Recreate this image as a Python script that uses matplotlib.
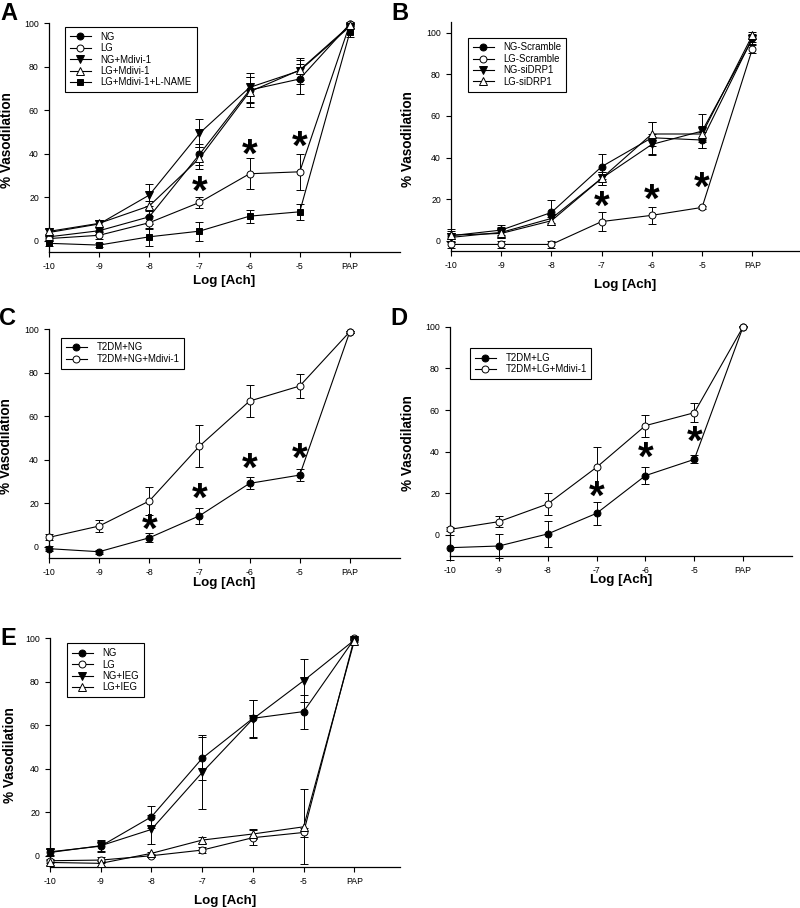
import matplotlib
matplotlib.use("Agg")
import matplotlib.pyplot as plt
from matplotlib.transforms import ScaledTranslation

plt.rcParams['font.family'] = ['Liberation Sans', 'DejaVu Sans']

# ---------------- data ----------------
tick_labels = ['-10', '-9', '-8', '-7', '-6', '-5', 'PAP']
xpos = [0, 1, 2, 3, 4, 5, 6]

# Panel A
a_labels = ['NG', 'LG', 'NG+Mdivi-1', 'LG+Mdivi-1', 'LG+Mdivi-1+L-NAME']
a_ng = [1.8, 4.6, 11.0, 39.7, 69.3, 74.4, 99.7]
a_ng_err = [1.5, 1.5, 3.5, 5.0, 6.0, 7.0, 0.8]
a_lg = [1.0, 2.5, 8.3, 17.6, 30.8, 31.7, 99.7]
a_lg_err = [1.2, 1.5, 3.0, 2.7, 7.2, 8.4, 0.8]
a_ngm = [3.8, 7.7, 21.0, 49.4, 70.5, 78.2, 98.5]
a_ngm_err = [1.5, 1.8, 5.2, 6.4, 6.8, 6.0, 0.8]
a_lgm = [4.3, 8.0, 16.0, 37.9, 68.5, 78.5, 99.0]
a_lgm_err = [1.5, 1.5, 2.5, 5.0, 7.0, 4.5, 0.8]
a_lgml = [-1.2, -2.0, 1.8, 4.4, 11.3, 13.3, 95.9]
a_lgml_err = [1.2, 0.8, 4.0, 4.4, 3.0, 3.7, 2.0]
a_star_x = [3, 4, 5]
a_star_y = [25.6, 42.5, 46.3]

# Panel B
b_labels = ['NG-Scramble', 'LG-Scramble', 'NG-siDRP1', 'LG-siDRP1']
b_ngs = [2.4, 5.1, 13.6, 35.6, 49.5, 48.4, 97.3]
b_ngs_err = [3.0, 2.5, 6.2, 6.0, 7.7, 3.7, 2.0]
b_lgs = [-1.8, -1.8, -1.8, 9.2, 12.2, 16.0, 92.1]
b_lgs_err = [1.5, 1.5, 1.5, 4.5, 4.2, 0.8, 2.0]
b_ngd = [1.6, 4.0, 10.7, 30.0, 46.3, 52.7, 96.8]
b_ngd_err = [2.0, 2.5, 2.0, 3.0, 5.0, 8.2, 2.0]
b_lgd = [2.7, 3.5, 9.6, 30.0, 51.3, 51.3, 98.7]
b_lgd_err = [2.0, 2.0, 2.0, 3.0, 6.0, 4.0, 1.5]
b_star_x = [3, 4, 5]
b_star_y = [19.5, 23.0, 28.4]

# Panel C
c_labels = ['T2DM+NG', 'T2DM+NG+Mdivi-1']
c_ng = [-0.9, -2.3, 4.1, 14.2, 29.1, 32.9, 98.8]
c_ng_err = [1.0, 1.0, 2.0, 3.6, 2.7, 2.9, 0.5]
c_ngm = [4.3, 9.5, 21.0, 46.2, 66.9, 73.8, 98.8]
c_ngm_err = [1.4, 2.8, 6.6, 9.7, 7.4, 5.5, 0.5]
c_star_x = [2, 3, 4, 5]
c_star_y = [11.0, 24.8, 38.6, 43.6]

# Panel D
d_labels = ['T2DM+LG', 'T2DM+LG+Mdivi-1']
d_lg = [-6.1, -5.3, 0.5, 10.4, 28.5, 36.3, 100.0]
d_lg_err = [6.0, 5.8, 6.3, 5.5, 3.9, 1.9, 0.3]
d_lgm = [2.7, 6.4, 14.9, 32.5, 52.5, 58.7, 100.0]
d_lgm_err = [1.0, 2.7, 5.2, 9.9, 5.3, 4.5, 0.3]
d_star_x = [3, 4, 5]
d_star_y = [21.3, 40.0, 47.7]

# Panel E
e_labels = ['NG', 'LG', 'NG+IEG', 'LG+IEG']
e_ng = [1.8, 4.4, 17.9, 44.8, 63.2, 66.3, 99.7]
e_ng_err = [1.5, 2.5, 5.0, 10.0, 8.5, 7.8, 0.5]
e_lg = [-2.3, -2.0, 0.0, 2.6, 8.3, 10.7, 100.0]
e_lg_err = [1.0, 1.5, 0.8, 1.2, 3.4, 2.0, 0.5]
e_ngi = [1.5, 4.6, 12.1, 38.3, 62.9, 80.5, 99.2]
e_ngi_err = [1.5, 2.5, 6.5, 17.0, 8.8, 10.0, 0.5]
e_lgi = [-3.1, -3.5, 1.1, 7.2, 10.0, 13.3, 98.9]
e_lgi_err = [1.0, 1.0, 0.8, 1.3, 2.5, 17.2, 0.5]

panel_letters = ['A', 'B', 'C', 'D', 'E']

# ---------------- styles ----------------
STY = {
    'fc': dict(marker='o', mfc='black', ms=5.0),
    'oc': dict(marker='o', mfc='white', ms=5.0),
    'dt': dict(marker='v', mfc='black', ms=5.4),
    'ut': dict(marker='^', mfc='white', ms=5.4),
    'sq': dict(marker='s', mfc='black', ms=4.4),
}

fig = plt.figure(figsize=(8.0, 9.08), dpi=100)
W, H = 800.0, 908.0


def make_ax(left, right, top_px, bot_px, ylim, xmax):
    ax = fig.add_axes([left / W, 1 - bot_px / H, (right - left) / W, (bot_px - top_px) / H])
    ax.set_xlim(0, xmax)
    ax.set_ylim(*ylim)
    for s in ['top', 'right']:
        ax.spines[s].set_visible(False)
    for s in ['left', 'bottom']:
        ax.spines[s].set_linewidth(0.9)
    ax.set_xticks(xpos)
    ax.set_xticklabels(tick_labels)
    ax.set_yticks([0, 20, 40, 60, 80, 100])
    ax.tick_params(axis='both', direction='out', length=3.3, width=0.8, labelsize=6.3, pad=4)
    return ax


def draw(ax, series, labels, legend_anchor, stars, xlab_coords, ylab_x):
    handles = []
    for (vals, errs, key), lab in zip(series, labels):
        st = STY[key]
        h = ax.errorbar(xpos, vals, yerr=errs, color='black', lw=0.8, elinewidth=0.7,
                        capsize=2.6, capthick=0.7, marker=st['marker'], mfc=st['mfc'],
                        mec='black', mew=0.7, ms=st['ms'], label=lab, clip_on=False,
                        zorder=3)
        for art in h.get_children():
            art.set_clip_on(False)
        handles.append(h[0])
    leg = ax.legend(handles, labels, loc='upper left', bbox_to_anchor=legend_anchor,
                    fontsize=6.9, frameon=True, fancybox=False, edgecolor='black',
                    handlelength=2.2, handletextpad=1.0, labelspacing=0.15,
                    borderpad=0.5, borderaxespad=0.0, framealpha=1)
    leg.get_frame().set_linewidth(0.8)
    fs = 29
    off = ScaledTranslation(0, -0.46 * fs / 72.0, fig.dpi_scale_trans)
    for sx, sy in zip(*stars):
        ax.text(sx, sy, '*', fontsize=fs, fontweight='bold', ha='center', va='baseline',
                transform=ax.transData + off)
    ax.set_xlabel('Log [Ach]', fontsize=9.6, fontweight='bold', va='center')
    ax.xaxis.set_label_coords(0.5, xlab_coords)
    ax.set_ylabel('% Vasodilation', fontsize=9.8, fontweight='bold')
    ax.yaxis.set_label_coords(ylab_x, 0.49)


# Panel A
axA = make_ax(49, 400, 23.3, 251.6, (-5, 100), 7)
draw(axA, [(a_ng, a_ng_err, 'fc'), (a_lg, a_lg_err, 'oc'), (a_ngm, a_ngm_err, 'dt'),
           (a_lgm, a_lgm_err, 'ut'), (a_lgml, a_lgml_err, 'sq')], a_labels,
     (0.046, 0.984), (a_star_x, a_star_y), -0.127, -0.10)

# Panel B
axB = make_ax(451, 800, 22.3, 251.1, (-5, 105), 6.95)
draw(axB, [(b_ngs, b_ngs_err, 'fc'), (b_lgs, b_lgs_err, 'oc'), (b_ngd, b_ngd_err, 'dt'),
           (b_lgd, b_lgd_err, 'ut')], b_labels,
     (0.048, 0.933), (b_star_x, b_star_y), -0.148, -0.103)

# Panel C
axC = make_ax(49, 400, 329.0, 557.6, (-5, 100), 7)
draw(axC, [(c_ng, c_ng_err, 'fc'), (c_ngm, c_ngm_err, 'oc')], c_labels,
     (0.034, 0.962), (c_star_x, c_star_y), -0.111, -0.103)

# Panel D
axD = make_ax(450, 792, 326.7, 555.8, (-10, 100), 7)
draw(axD, [(d_lg, d_lg_err, 'fc'), (d_lgm, d_lgm_err, 'oc')], d_labels,
     (0.058, 0.906), (d_star_x, d_star_y), -0.106, -0.102)

# Panel E
axE = make_ax(50, 400, 638.3, 866.6, (-5, 100), 6.9)
draw(axE, [(e_ng, e_ng_err, 'fc'), (e_lg, e_lg_err, 'oc'), (e_ngi, e_ngi_err, 'dt'),
           (e_lgi, e_lgi_err, 'ut')], e_labels,
     (0.048, 0.978), ([], []), -0.151, -0.095)

# Panel letters (baseline placed at the letter's bottom edge)
for lab, (px, py) in zip(panel_letters,
                         [(8.5, 20), (400, 20), (8, 325), (399, 325), (8, 645)]):
    fig.text(px / W, 1 - py / H, lab, fontsize=17, fontweight='bold', ha='center',
             va='baseline')

fig.savefig('out.png', dpi=100)
